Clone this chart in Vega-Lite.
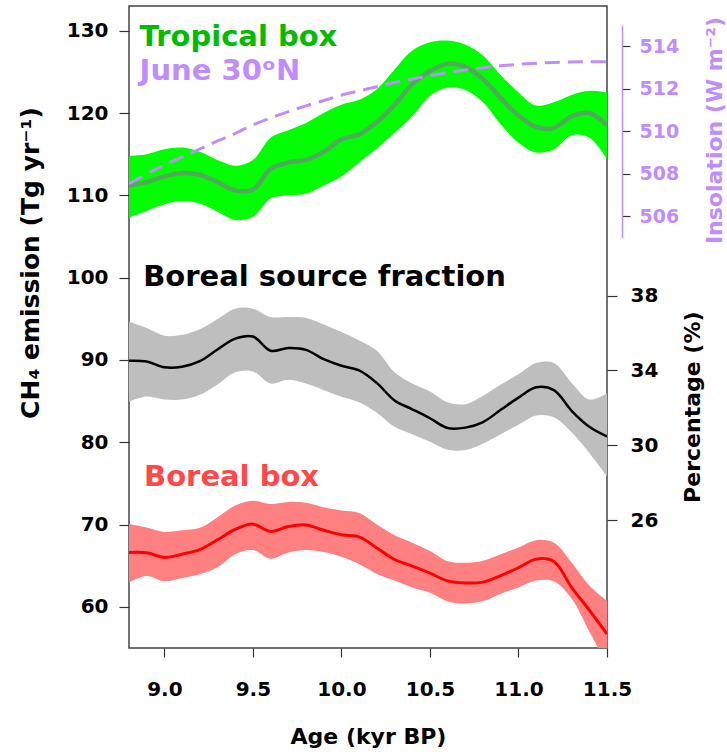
{
  "$schema": "https://vega.github.io/schema/vega-lite/v6.json",
  "width": 478,
  "height": 642,
  "autosize": {"type": "none"},
  "padding": {"left": 129, "top": 6, "right": 120, "bottom": 107},
  "background": "white",
  "config": {
    "font": "DejaVu Sans",
    "view": {"stroke": "#444444", "strokeWidth": 1.5},
    "axis": {"grid": false, "labelFont": "DejaVu Sans", "titleFont": "DejaVu Sans", "labelFontWeight": "bold", "titleFontWeight": "bold", "labelColor": "black", "titleColor": "black", "tickColor": "#333333", "tickWidth": 1.2, "labelFlush": false}
  },
  "datasets": {
    "bands": [
      {"age": 8.8, "series": "tropical", "mean": 111.2, "lo": 107.3, "hi": 114.8},
      {"age": 8.9, "series": "tropical", "mean": 111.6, "lo": 108.1, "hi": 115.0},
      {"age": 9.0, "series": "tropical", "mean": 112.3, "lo": 108.9, "hi": 115.6},
      {"age": 9.1, "series": "tropical", "mean": 112.7, "lo": 109.3, "hi": 115.8},
      {"age": 9.2, "series": "tropical", "mean": 112.5, "lo": 109.0, "hi": 115.3},
      {"age": 9.3, "series": "tropical", "mean": 111.6, "lo": 108.0, "hi": 114.3},
      {"age": 9.4, "series": "tropical", "mean": 110.6, "lo": 107.0, "hi": 113.6},
      {"age": 9.5, "series": "tropical", "mean": 110.7, "lo": 107.4, "hi": 114.3},
      {"age": 9.6, "series": "tropical", "mean": 113.2, "lo": 109.6, "hi": 117.0},
      {"age": 9.7, "series": "tropical", "mean": 114.0, "lo": 110.0, "hi": 117.9},
      {"age": 9.8, "series": "tropical", "mean": 114.3, "lo": 110.2, "hi": 118.8},
      {"age": 9.9, "series": "tropical", "mean": 115.3, "lo": 111.2, "hi": 120.0},
      {"age": 10.0, "series": "tropical", "mean": 116.8, "lo": 112.3, "hi": 121.0},
      {"age": 10.1, "series": "tropical", "mean": 117.4, "lo": 114.0, "hi": 121.6},
      {"age": 10.2, "series": "tropical", "mean": 118.9, "lo": 115.7, "hi": 122.9},
      {"age": 10.3, "series": "tropical", "mean": 121.0, "lo": 117.6, "hi": 125.3},
      {"age": 10.4, "series": "tropical", "mean": 123.5, "lo": 119.6, "hi": 127.6},
      {"age": 10.5, "series": "tropical", "mean": 125.1, "lo": 122.1, "hi": 128.6},
      {"age": 10.6, "series": "tropical", "mean": 126.0, "lo": 123.1, "hi": 128.8},
      {"age": 10.7, "series": "tropical", "mean": 125.6, "lo": 122.8, "hi": 128.3},
      {"age": 10.8, "series": "tropical", "mean": 124.1, "lo": 121.3, "hi": 127.0},
      {"age": 10.9, "series": "tropical", "mean": 121.8, "lo": 118.6, "hi": 124.6},
      {"age": 11.0, "series": "tropical", "mean": 119.7, "lo": 116.4, "hi": 122.5},
      {"age": 11.1, "series": "tropical", "mean": 118.3, "lo": 115.2, "hi": 120.9},
      {"age": 11.2, "series": "tropical", "mean": 118.2, "lo": 115.6, "hi": 121.3},
      {"age": 11.3, "series": "tropical", "mean": 119.6, "lo": 117.3, "hi": 122.2},
      {"age": 11.4, "series": "tropical", "mean": 120.0, "lo": 117.0, "hi": 122.7},
      {"age": 11.5, "series": "tropical", "mean": 118.5, "lo": 114.4, "hi": 122.5},
      {"age": 8.8, "series": "boreal", "mean": 66.61, "lo": 62.96, "hi": 70.06},
      {"age": 8.9, "series": "boreal", "mean": 66.58, "lo": 63.75, "hi": 69.63},
      {"age": 9.0, "series": "boreal", "mean": 66.0, "lo": 63.1, "hi": 69.1},
      {"age": 9.1, "series": "boreal", "mean": 66.4, "lo": 63.5, "hi": 69.3},
      {"age": 9.2, "series": "boreal", "mean": 66.95, "lo": 63.95, "hi": 69.6},
      {"age": 9.3, "series": "boreal", "mean": 68.15, "lo": 64.8, "hi": 70.9},
      {"age": 9.4, "series": "boreal", "mean": 69.4, "lo": 66.4, "hi": 72.3},
      {"age": 9.5, "series": "boreal", "mean": 70.05, "lo": 66.9, "hi": 72.9},
      {"age": 9.6, "series": "boreal", "mean": 69.15, "lo": 65.85, "hi": 72.5},
      {"age": 9.7, "series": "boreal", "mean": 69.75, "lo": 66.6, "hi": 72.75},
      {"age": 9.8, "series": "boreal", "mean": 69.95, "lo": 66.9, "hi": 72.65},
      {"age": 9.9, "series": "boreal", "mean": 69.3, "lo": 66.65, "hi": 72.1},
      {"age": 10.0, "series": "boreal", "mean": 68.75, "lo": 66.1, "hi": 71.7},
      {"age": 10.1, "series": "boreal", "mean": 68.5, "lo": 65.2, "hi": 71.4},
      {"age": 10.2, "series": "boreal", "mean": 67.15, "lo": 64.0, "hi": 70.0},
      {"age": 10.3, "series": "boreal", "mean": 65.75, "lo": 63.2, "hi": 68.7},
      {"age": 10.4, "series": "boreal", "mean": 64.95, "lo": 62.35, "hi": 67.8},
      {"age": 10.5, "series": "boreal", "mean": 64.1, "lo": 61.7, "hi": 66.8},
      {"age": 10.6, "series": "boreal", "mean": 63.15, "lo": 60.66, "hi": 65.55},
      {"age": 10.7, "series": "boreal", "mean": 62.9, "lo": 60.4, "hi": 65.35},
      {"age": 10.8, "series": "boreal", "mean": 63.0, "lo": 60.7, "hi": 65.6},
      {"age": 10.9, "series": "boreal", "mean": 63.8, "lo": 61.6, "hi": 66.4},
      {"age": 11.0, "series": "boreal", "mean": 64.75, "lo": 62.36, "hi": 67.2},
      {"age": 11.1, "series": "boreal", "mean": 65.8, "lo": 63.2, "hi": 68.1},
      {"age": 11.2, "series": "boreal", "mean": 65.5, "lo": 63.1, "hi": 67.8},
      {"age": 11.3, "series": "boreal", "mean": 62.36, "lo": 61.0, "hi": 65.4},
      {"age": 11.4, "series": "boreal", "mean": 59.6, "lo": 57.0, "hi": 62.6},
      {"age": 11.5, "series": "boreal", "mean": 56.7, "lo": 53.0, "hi": 60.74},
      {"age": 8.8, "series": "fraction", "mean": 34.52, "lo": 32.35, "hi": 36.61},
      {"age": 8.9, "series": "fraction", "mean": 34.48, "lo": 32.61, "hi": 36.26},
      {"age": 9.0, "series": "fraction", "mean": 34.17, "lo": 32.45, "hi": 35.85},
      {"age": 9.1, "series": "fraction", "mean": 34.2, "lo": 32.45, "hi": 35.9},
      {"age": 9.2, "series": "fraction", "mean": 34.5, "lo": 32.7, "hi": 36.2},
      {"age": 9.3, "series": "fraction", "mean": 35.12, "lo": 33.25, "hi": 36.75},
      {"age": 9.4, "series": "fraction", "mean": 35.7, "lo": 33.9, "hi": 37.3},
      {"age": 9.5, "series": "fraction", "mean": 35.81, "lo": 33.95, "hi": 37.3},
      {"age": 9.6, "series": "fraction", "mean": 35.05, "lo": 33.3, "hi": 36.85},
      {"age": 9.7, "series": "fraction", "mean": 35.2, "lo": 33.5, "hi": 36.85},
      {"age": 9.8, "series": "fraction", "mean": 35.1, "lo": 33.3, "hi": 36.8},
      {"age": 9.9, "series": "fraction", "mean": 34.6, "lo": 32.95, "hi": 36.45},
      {"age": 10.0, "series": "fraction", "mean": 34.25, "lo": 32.6, "hi": 36.05},
      {"age": 10.1, "series": "fraction", "mean": 34.0, "lo": 32.3, "hi": 35.6},
      {"age": 10.2, "series": "fraction", "mean": 33.33, "lo": 31.75, "hi": 35.05},
      {"age": 10.3, "series": "fraction", "mean": 32.4, "lo": 31.0, "hi": 33.9},
      {"age": 10.4, "series": "fraction", "mean": 31.93, "lo": 30.6, "hi": 33.3},
      {"age": 10.5, "series": "fraction", "mean": 31.45, "lo": 30.2, "hi": 32.88},
      {"age": 10.6, "series": "fraction", "mean": 30.93, "lo": 29.77, "hi": 32.3},
      {"age": 10.7, "series": "fraction", "mean": 30.95, "lo": 29.75, "hi": 32.2},
      {"age": 10.8, "series": "fraction", "mean": 31.25, "lo": 30.1, "hi": 32.65},
      {"age": 10.9, "series": "fraction", "mean": 31.9, "lo": 30.6, "hi": 33.25},
      {"age": 11.0, "series": "fraction", "mean": 32.55, "lo": 31.1, "hi": 33.8},
      {"age": 11.1, "series": "fraction", "mean": 33.1, "lo": 31.6, "hi": 34.4},
      {"age": 11.2, "series": "fraction", "mean": 32.95, "lo": 31.5, "hi": 34.4},
      {"age": 11.3, "series": "fraction", "mean": 31.85, "lo": 30.7, "hi": 33.35},
      {"age": 11.4, "series": "fraction", "mean": 31.0, "lo": 29.6, "hi": 32.45},
      {"age": 11.5, "series": "fraction", "mean": 30.48, "lo": 28.35, "hi": 32.79}
    ],
    "insol": [
      {"age": 8.8, "insolation": 507.54},
      {"age": 8.9, "insolation": 508.0},
      {"age": 9.0, "insolation": 508.42},
      {"age": 9.1, "insolation": 508.8},
      {"age": 9.2, "insolation": 509.17},
      {"age": 9.3, "insolation": 509.55},
      {"age": 9.4, "insolation": 509.9},
      {"age": 9.5, "insolation": 510.3},
      {"age": 9.6, "insolation": 510.63},
      {"age": 9.7, "insolation": 510.93},
      {"age": 9.8, "insolation": 511.2},
      {"age": 9.9, "insolation": 511.45},
      {"age": 10.0, "insolation": 511.7},
      {"age": 10.1, "insolation": 511.9},
      {"age": 10.2, "insolation": 512.1},
      {"age": 10.3, "insolation": 512.3},
      {"age": 10.4, "insolation": 512.46},
      {"age": 10.5, "insolation": 512.62},
      {"age": 10.6, "insolation": 512.76},
      {"age": 10.7, "insolation": 512.88},
      {"age": 10.8, "insolation": 512.99},
      {"age": 10.9, "insolation": 513.08},
      {"age": 11.0, "insolation": 513.15},
      {"age": 11.1, "insolation": 513.2},
      {"age": 11.2, "insolation": 513.24},
      {"age": 11.3, "insolation": 513.26},
      {"age": 11.4, "insolation": 513.27},
      {"age": 11.5, "insolation": 513.27}
    ]
  },
  "layer": [
    {
      "data": {"name": "bands"},
      "layer": [
        {
          "transform": [{"filter": "datum.series === 'tropical'"}],
          "mark": {"type": "area", "color": "#00ff00", "interpolate": "catmull-rom", "clip": true},
          "encoding": {
            "x": {"field": "age", "type": "quantitative", "scale": {"domain": [8.8, 11.5], "nice": false, "zero": false},
              "axis": {"title": "Age (kyr BP)", "values": [9, 9.5, 10, 10.5, 11, 11.5], "format": ".1f", "domain": false, "tickSize": 9, "labelFontSize": 20, "labelPadding": 22, "labelBaseline": "top", "labelFlush": false, "titleFontSize": 22, "titleBaseline": "alphabetic", "titleY": 95.6, "titleX": 239}},
            "y": {"field": "hi", "type": "quantitative", "scale": {"domain": [55, 133], "nice": false, "zero": false},
              "axis": {"title": "CH₄ emission (Tg yr⁻¹)", "orient": "left", "values": [60, 70, 80, 90, 100, 110, 120, 130], "domain": false, "tickSize": 10, "labelFontSize": 20, "labelPadding": 11, "titleFontSize": 25, "titleAngle": 270, "titleX": -99, "titleY": 256.5, "titleBaseline": "middle", "titleAlign": "center"}},
            "y2": {"field": "lo"}
          }
        },
        {
          "transform": [{"filter": "datum.series === 'tropical'"}],
          "mark": {"type": "line", "color": "#52a85c", "strokeWidth": 4.5, "interpolate": "catmull-rom", "clip": true},
          "encoding": {
            "x": {"field": "age", "type": "quantitative", "title": "Age (kyr BP)"},
            "y": {"field": "mean", "type": "quantitative", "title": "CH₄ emission (Tg yr⁻¹)"}
          }
        },
        {
          "transform": [{"filter": "datum.series === 'boreal'"}],
          "mark": {"type": "area", "color": "#ff8080", "interpolate": "catmull-rom", "clip": true},
          "encoding": {
            "x": {"field": "age", "type": "quantitative", "title": "Age (kyr BP)"},
            "y": {"field": "hi", "type": "quantitative", "title": "CH₄ emission (Tg yr⁻¹)"},
            "y2": {"field": "lo"}
          }
        },
        {
          "transform": [{"filter": "datum.series === 'boreal'"}],
          "mark": {"type": "line", "color": "#ff0000", "strokeWidth": 3, "interpolate": "catmull-rom", "clip": true},
          "encoding": {
            "x": {"field": "age", "type": "quantitative", "title": "Age (kyr BP)"},
            "y": {"field": "mean", "type": "quantitative", "title": "CH₄ emission (Tg yr⁻¹)"}
          }
        },
        {
          "data": {"values": [{"label": "Tropical box"}]},
          "mark": {"type": "text", "align": "left", "baseline": "alphabetic", "fontSize": 29, "fontWeight": "bold", "color": "#00bb00"},
          "encoding": {"x": {"datum": 8.86}, "y": {"datum": 128.1}, "text": {"field": "label"}}
        },
        {
          "data": {"values": [{"label": "June 30ᵒN"}]},
          "mark": {"type": "text", "align": "left", "baseline": "alphabetic", "fontSize": 29, "fontWeight": "bold", "color": "#c08cff"},
          "encoding": {"x": {"datum": 8.86}, "y": {"datum": 124.05}, "text": {"field": "label"}}
        },
        {
          "data": {"values": [{"label": "Boreal source fraction"}]},
          "mark": {"type": "text", "align": "left", "baseline": "alphabetic", "fontSize": 29, "fontWeight": "bold", "color": "black"},
          "encoding": {"x": {"datum": 8.88}, "y": {"datum": 99.0}, "text": {"field": "label"}}
        },
        {
          "data": {"values": [{"label": "Boreal box"}]},
          "mark": {"type": "text", "align": "left", "baseline": "alphabetic", "fontSize": 29, "fontWeight": "bold", "color": "#ff4848"},
          "encoding": {"x": {"datum": 8.885}, "y": {"datum": 74.7}, "text": {"field": "label"}}
        }
      ]
    },
    {
      "data": {"name": "bands"},
      "transform": [{"filter": "datum.series === 'fraction'"}],
      "layer": [
        {
          "mark": {"type": "area", "color": "#bebebe", "interpolate": "catmull-rom", "clip": true},
          "encoding": {
            "x": {"field": "age", "type": "quantitative", "title": "Age (kyr BP)"},
            "y": {"field": "hi", "type": "quantitative", "scale": {"domain": [19.19, 53.45], "nice": false, "zero": false},
              "axis": {"title": "Percentage (%)", "orient": "right", "values": [26, 30, 34, 38], "domain": false, "tickSize": 10, "labelFontSize": 20, "labelPadding": 13, "titleFontSize": 22, "titleAngle": 270, "titleX": 85.3, "titleY": 400.7, "titleBaseline": "middle", "titleAlign": "center"}},
            "y2": {"field": "lo"}
          }
        },
        {
          "mark": {"type": "line", "color": "black", "strokeWidth": 2.5, "interpolate": "catmull-rom", "clip": true},
          "encoding": {
            "x": {"field": "age", "type": "quantitative", "title": "Age (kyr BP)"},
            "y": {"field": "mean", "type": "quantitative", "title": "Percentage (%)"}
          }
        }
      ]
    },
    {
      "data": {"name": "insol"},
      "mark": {"type": "line", "color": "#c08cff", "strokeWidth": 3, "strokeDash": [15, 8], "interpolate": "catmull-rom", "clip": true},
      "encoding": {
        "x": {"field": "age", "type": "quantitative", "title": "Age (kyr BP)"},
        "y": {"field": "insolation", "type": "quantitative", "scale": {"domain": [505, 515], "range": [231.7, 19], "nice": false, "zero": false},
          "axis": {"title": "Insolation (W m⁻²)", "orient": "right", "offset": 15, "values": [506, 508, 510, 512, 514], "domain": true, "domainColor": "#c08cff", "domainWidth": 1.5, "tickSize": 8, "labelFontSize": 19, "labelColor": "#c08cff", "labelPadding": 9, "titleColor": "#c08cff", "titleFontSize": 22, "titleAngle": 270, "titleX": 92, "titleY": 124, "titleBaseline": "middle", "titleAlign": "center"}}
      }
    }
  ],
  "resolve": {"scale": {"y": "independent"}}
}
